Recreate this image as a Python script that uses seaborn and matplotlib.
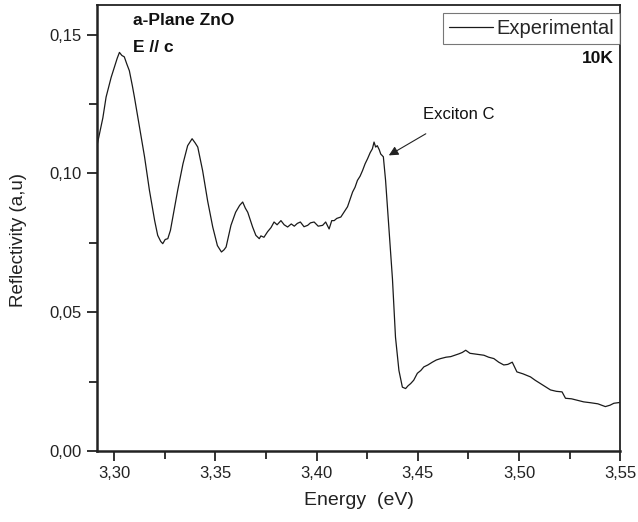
import matplotlib
matplotlib.use("Agg")
import matplotlib.pyplot as plt
import seaborn as sns
import pandas as pd
from matplotlib.ticker import MultipleLocator, FuncFormatter

energy = [3.2915, 3.2944, 3.2960, 3.2985, 3.3000, 3.3015, 3.3026, 3.3038, 3.3050, 3.3062,
          3.3075, 3.3090, 3.3100, 3.3125, 3.3150, 3.3174, 3.3200, 3.3215, 3.3230, 3.3240,
          3.3252, 3.3265, 3.3278, 3.3290, 3.3314, 3.3340, 3.3363, 3.3385, 3.3400, 3.3413,
          3.3437, 3.3462, 3.3487, 3.3510, 3.3530, 3.3543, 3.3553, 3.3577, 3.3600, 3.3620,
          3.3635, 3.3648, 3.3660, 3.3684, 3.3700, 3.3717, 3.3725, 3.3740, 3.3758, 3.3775,
          3.3790, 3.3805, 3.3824, 3.3840, 3.3857, 3.3875, 3.3890, 3.3905, 3.3920, 3.3938,
          3.3956, 3.3970, 3.3988, 3.4008, 3.4030, 3.4045, 3.4062, 3.4075, 3.4087, 3.4100,
          3.4120, 3.4135, 3.4153, 3.4165, 3.4178, 3.4190, 3.4202, 3.4215, 3.4227, 3.4240,
          3.4252, 3.4265, 3.4276, 3.4284, 3.4292, 3.4300, 3.4310, 3.4317, 3.4330, 3.4341,
          3.4358, 3.4375, 3.4390, 3.4407, 3.4424, 3.4440, 3.4452, 3.4465, 3.4480, 3.4498,
          3.4515, 3.4530, 3.4550, 3.4572, 3.4592, 3.4613, 3.4640, 3.4663, 3.4683, 3.4703,
          3.4720, 3.4737, 3.4758, 3.4778, 3.4800, 3.4827, 3.4850, 3.4876, 3.4900, 3.4925,
          3.4945, 3.4967, 3.4990, 3.5020, 3.5057, 3.5080, 3.5106, 3.5130, 3.5156, 3.5185,
          3.5213, 3.5230, 3.5260, 3.5288, 3.5320, 3.5353, 3.5390, 3.5427, 3.5450, 3.5469,
          3.5500]
reflectivity = [0.110, 0.120, 0.1275, 0.1346, 0.138, 0.1415, 0.1436, 0.1425, 0.142, 0.1395,
                0.137, 0.1315, 0.1275, 0.1167, 0.106, 0.094, 0.083, 0.0777, 0.0755, 0.0747,
                0.0762, 0.0765, 0.0795, 0.0843, 0.094, 0.1035, 0.110, 0.1125, 0.1110, 0.1095,
                0.101, 0.090, 0.0807, 0.074, 0.0717, 0.0725, 0.0735, 0.0813, 0.086, 0.0885,
                0.0897, 0.0875, 0.086, 0.0807, 0.0777, 0.0765, 0.0775, 0.0770, 0.079, 0.0805,
                0.0825, 0.0815, 0.083, 0.0815, 0.0807, 0.0818, 0.081, 0.0820, 0.0825, 0.0808,
                0.0813, 0.0822, 0.0825, 0.0810, 0.0813, 0.0825, 0.080, 0.0830, 0.083, 0.0838,
                0.0843, 0.0860, 0.088, 0.0905, 0.0933, 0.0950, 0.0975, 0.0990, 0.101, 0.1035,
                0.1053, 0.1075, 0.1089, 0.1113, 0.1095, 0.110, 0.1085, 0.107, 0.106, 0.0975,
                0.080, 0.062, 0.041, 0.029, 0.023, 0.0225, 0.0235, 0.0243, 0.0255, 0.028,
                0.0290, 0.0303, 0.0310, 0.032, 0.0328, 0.0333, 0.0338, 0.034, 0.0345, 0.035,
                0.0355, 0.0363, 0.0352, 0.035, 0.0348, 0.0345, 0.0338, 0.0333, 0.0320, 0.031,
                0.0312, 0.032, 0.0285, 0.0278, 0.0267, 0.0255, 0.0243, 0.0232, 0.022, 0.0215,
                0.0213, 0.019, 0.0188, 0.0183, 0.0177, 0.0174, 0.0170, 0.016, 0.0165, 0.0172,
                0.0175]

x_ticks = [3.30, 3.35, 3.40, 3.45, 3.50, 3.55]
y_ticks = [0.00, 0.05, 0.10, 0.15]

sns.set_theme(style="ticks")
plt.rcParams['font.family'] = ['Liberation Sans', 'DejaVu Sans']

df = pd.DataFrame({"Energy": energy, "Reflectivity": reflectivity})

fig = plt.figure(figsize=(6.38, 5.22), dpi=100)
ax = fig.add_axes([0.152, 0.136, 0.820, 0.854])

sns.lineplot(data=df, x="Energy", y="Reflectivity", ax=ax, color="#1a1a1a",
             linewidth=0.9, label="Experimental", estimator=None, sort=False)

ax.set_xlim(3.2915, 3.55)
ax.set_ylim(0.0, 0.1606)
ax.set_xticks(x_ticks)
ax.set_yticks(y_ticks)
ax.xaxis.set_minor_locator(MultipleLocator(0.025))
ax.yaxis.set_minor_locator(MultipleLocator(0.025))
ax.xaxis.set_major_formatter(FuncFormatter(lambda v, p: f"{v:.2f}".replace('.', ',')))
ax.yaxis.set_major_formatter(FuncFormatter(lambda v, p: f"{v:.2f}".replace('.', ',')))

ax.tick_params(axis='both', which='major', direction='out', length=7, width=1.3,
               labelsize=12, colors='#222222', pad=4)
ax.tick_params(axis='both', which='minor', direction='out', length=6, width=1.3, colors='#222222')
ax.tick_params(top=False, right=False)

for s in ['top', 'right']:
    ax.spines[s].set_linewidth(1.3)
    ax.spines[s].set_color('#222222')
for s in ['left', 'bottom']:
    ax.spines[s].set_linewidth(1.8)
    ax.spines[s].set_color('#222222')
for s in ax.spines:
    ax.spines[s].set_visible(True)

ax.set_xlabel("Energy  (eV)", fontsize=14, labelpad=8, color='#222222')
ax.set_ylabel("Reflectivity (a,u)", fontsize=13.5, color='#222222')
ax.yaxis.set_label_coords(-0.134, 0.473)

ax.text(0.069, 0.966, "a-Plane ZnO", transform=ax.transAxes, fontsize=12.5,
        fontweight='bold', va='center', ha='left', color='#111111')
ax.text(0.069, 0.906, "E // c", transform=ax.transAxes, fontsize=12.5,
        fontweight='bold', va='center', ha='left', color='#111111')
ax.text(0.987, 0.881, "10K", transform=ax.transAxes, fontsize=12.5,
        fontweight='bold', va='center', ha='right', color='#111111')

ax.annotate("Exciton C", xy=(3.4357, 0.1065), xytext=(3.4702, 0.1212),
            fontsize=12, ha='center', va='center', color='#111111',
            arrowprops=dict(arrowstyle='-|>', color='#222222', lw=0.8,
                            shrinkA=12, shrinkB=0, mutation_scale=14))

leg = ax.legend(loc='upper right', bbox_to_anchor=(1.0, 0.982), fontsize=14.5,
                frameon=True, fancybox=False, edgecolor='#555555', borderpad=0.3,
                handlelength=2.2, handletextpad=0.15, borderaxespad=0.0)
leg.get_frame().set_linewidth(0.8)

fig.savefig("out.png", dpi=100)
